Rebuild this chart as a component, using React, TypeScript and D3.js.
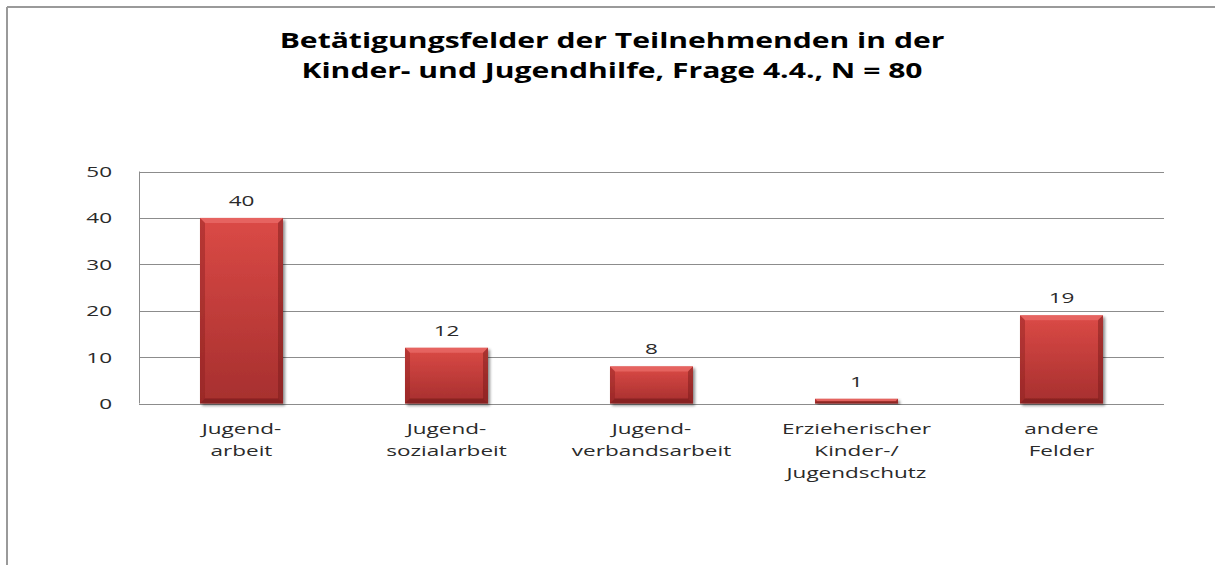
import React from "react";
import * as d3 from "d3";

const categories: string[][] = [
  ["Jugend-", "arbeit"],
  ["Jugend-", "sozialarbeit"],
  ["Jugend-", "verbandsarbeit"],
  ["Erzieherischer", "Kinder-/", "Jugendschutz"],
  ["andere", "Felder"],
];
const values: number[] = [40, 12, 8, 1, 19];
const yTicks: number[] = [0, 10, 20, 30, 40, 50];
const titleLines: string[] = [
  "Betätigungsfelder der Teilnehmenden in der",
  "Kinder- und Jugendhilfe, Frage 4.4., N = 80",
];

const W = 1215;
const H = 565;
const plot = { left: 139, right: 1164, top: 171.5, bottom: 403.5 };
const FONT = "'Open Sans', 'DejaVu Sans', sans-serif";
const SX = 1.5; // horizontal stretch of text
const TSX = 1.4;

export default function App() {
  const x = d3
    .scaleBand<number>()
    .domain(values.map((_, i) => i))
    .range([plot.left, plot.right])
    .paddingInner(0.595)
    .paddingOuter(0.2975);
  const y = d3.scaleLinear().domain([0, 50]).range([plot.bottom, plot.top]);
  const bw = x.bandwidth();
  const bev = 5;

  return (
    <svg
      width={W}
      height={H}
      style={{ position: "absolute", left: 0, top: 0, background: "#fff" }}
    >
      <defs>
        <linearGradient id="barGrad" x1="0" y1="0" x2="0" y2="1">
          <stop offset="0" stopColor="#db4a46" />
          <stop offset="1" stopColor="#a62f2e" />
        </linearGradient>
        <filter id="shadow" x="-20%" y="-20%" width="140%" height="140%">
          <feGaussianBlur in="SourceAlpha" stdDeviation="1.5" />
          <feOffset dx="2" dy="1.5" result="b" />
          <feComponentTransfer>
            <feFuncA type="linear" slope="0.45" />
          </feComponentTransfer>
          <feMerge>
            <feMergeNode />
            <feMergeNode in="SourceGraphic" />
          </feMerge>
        </filter>
      </defs>
      <rect x={0} y={0} width={W} height={H} fill="#fff" />
      {/* outer border */}
      <line x1={7} y1={7} x2={W} y2={7} stroke="#9a9a9a" strokeWidth={2} />
      <line x1={7} y1={7} x2={7} y2={H} stroke="#9a9a9a" strokeWidth={2} />

      {/* title */}
      {titleLines.map((t, i) => (
        <text
          key={i}
          transform={`translate(${612},${48 + i * 30}) scale(${TSX},1)`}
          textAnchor="middle"
          fontFamily={FONT}
          fontWeight="bold"
          fontSize={21.5}
          fill="#000"
        >
          {t}
        </text>
      ))}

      {/* gridlines */}
      {yTicks.map((t) => (
        <line
          key={t}
          x1={plot.left}
          x2={plot.right}
          y1={Math.round(y(t)) + 0.5}
          y2={Math.round(y(t)) + 0.5}
          stroke="#8c8c8c"
          strokeWidth={1}
        />
      ))}
      <line
        x1={plot.left + 0.5}
        x2={plot.left + 0.5}
        y1={y(50)}
        y2={y(0)}
        stroke="#8c8c8c"
      />

      {/* y tick labels */}
      {yTicks.map((t) => (
        <text
          key={t}
          transform={`translate(${112},${y(t) + 5.5}) scale(${SX},1)`}
          textAnchor="end"
          fontFamily={FONT}
          fontSize={15}
          fill="#2a2a2a"
        >
          {t}
        </text>
      ))}

      {/* bars */}
      {values.map((v, i) => {
        const x0 = x(i)!;
        const y0 = y(v);
        const y1 = y(0);
        const h = y1 - y0;
        const b = Math.min(bev, h / 2);
        return (
          <g key={i} filter="url(#shadow)">
            <rect x={x0} y={y0} width={bw} height={h} fill="url(#barGrad)" />
            {/* top bevel */}
            <polygon
              points={`${x0},${y0} ${x0 + bw},${y0} ${x0 + bw - b},${y0 + b} ${x0 + b},${y0 + b}`}
              fill="#e86a66"
              opacity={0.8}
            />
            {/* left bevel */}
            <polygon
              points={`${x0},${y0} ${x0 + b},${y0 + b} ${x0 + b},${y1 - b} ${x0},${y1}`}
              fill="#8f2222"
              opacity={0.45}
            />
            {/* right bevel */}
            <polygon
              points={`${x0 + bw},${y0} ${x0 + bw - b},${y0 + b} ${x0 + bw - b},${y1 - b} ${x0 + bw},${y1}`}
              fill="#7a1c1c"
              opacity={0.5}
            />
            {/* bottom bevel */}
            <polygon
              points={`${x0},${y1} ${x0 + b},${y1 - b} ${x0 + bw - b},${y1 - b} ${x0 + bw},${y1}`}
              fill="#6e1818"
              opacity={0.55}
            />
          </g>
        );
      })}

      {/* value labels */}
      {values.map((v, i) => (
        <text
          key={i}
          transform={`translate(${x(i)! + bw / 2},${y(v) - 12}) scale(${SX},1)`}
          textAnchor="middle"
          fontFamily={FONT}
          fontSize={15}
          fill="#2a2a2a"
        >
          {v}
        </text>
      ))}

      {/* category labels */}
      {categories.map((lines, i) => (
        <g key={i}>
          {lines.map((l, j) => (
            <text
              key={j}
              transform={`translate(${x(i)! + bw / 2},${434 + j * 22}) scale(${SX},1)`}
              textAnchor="middle"
              fontFamily={FONT}
              fontSize={15}
              fill="#2a2a2a"
            >
              {l}
            </text>
          ))}
        </g>
      ))}
    </svg>
  );
}
